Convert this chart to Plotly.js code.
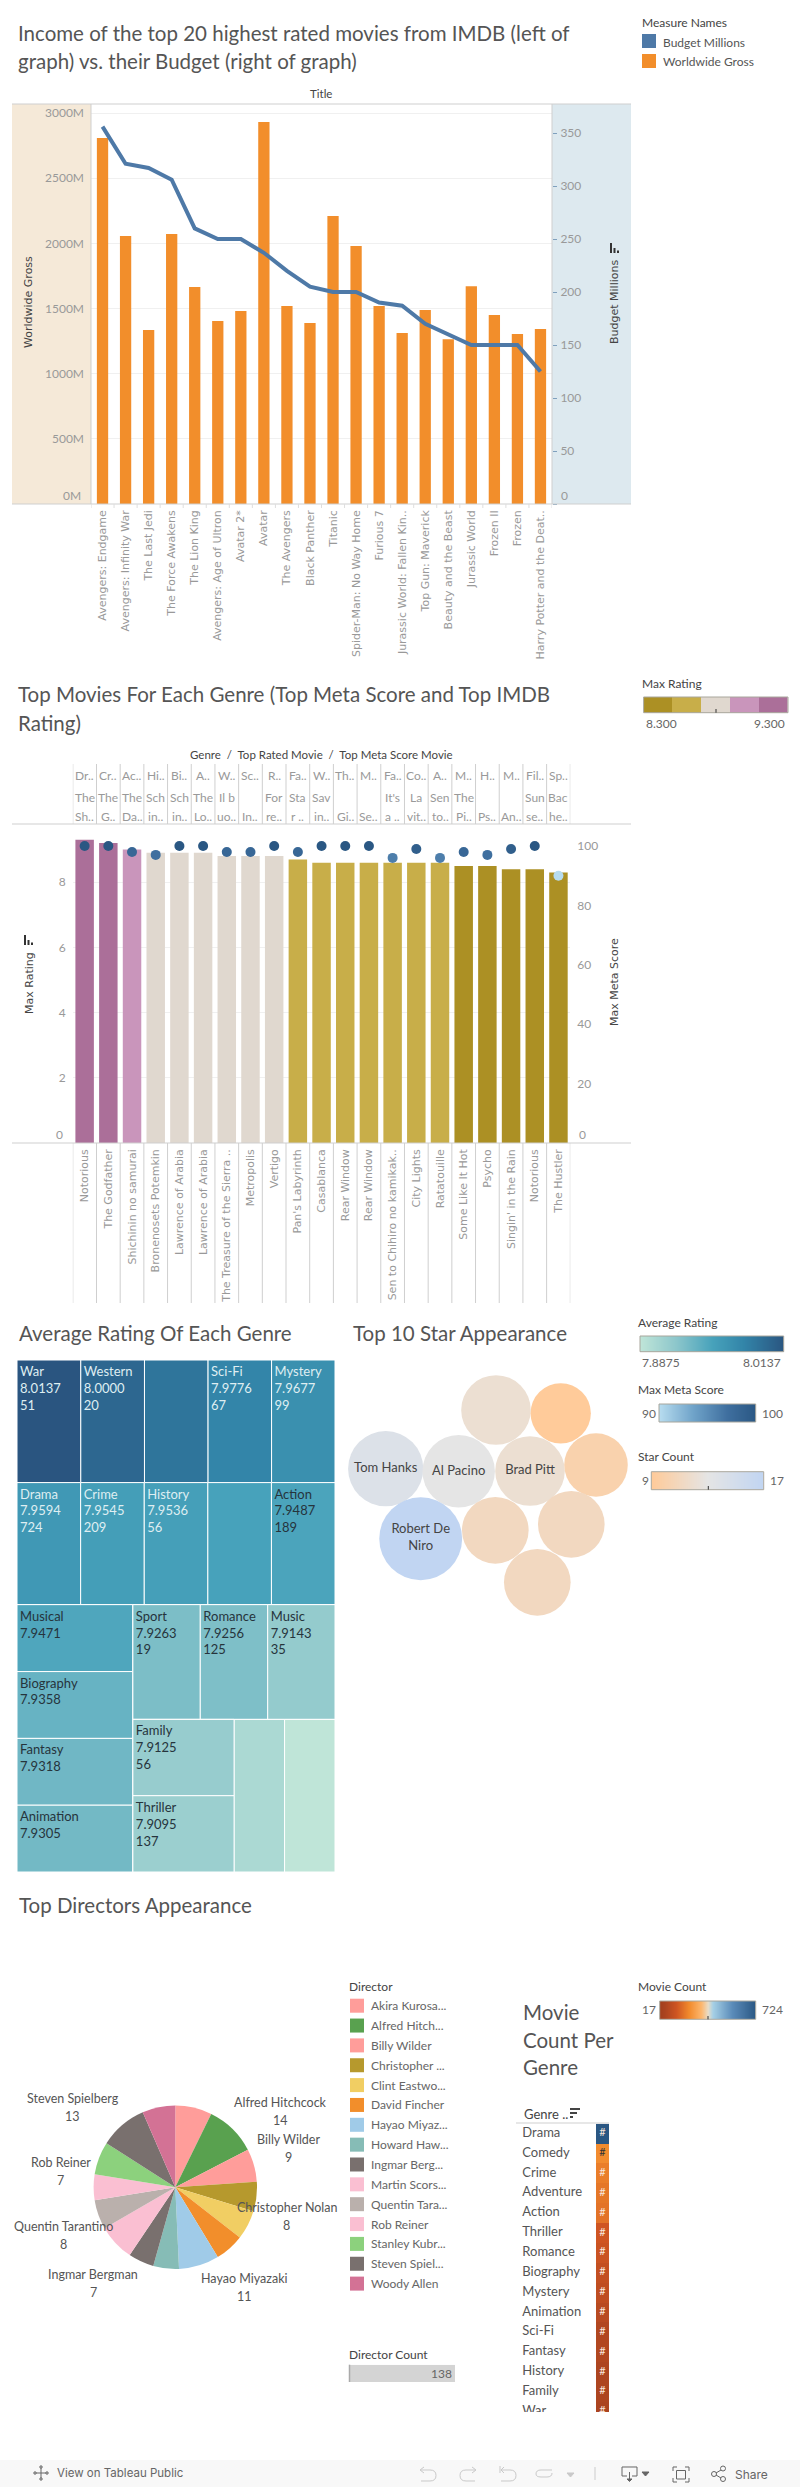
<!DOCTYPE html>
<html><head><meta charset="utf-8">
<script src="https://cdn.plot.ly/plotly-3.0.1.min.js"></script>
<style>html,body{margin:0;padding:0;background:#fff}#c{width:800px;height:2487px}</style>
</head><body><div id="c"></div>
<script>
// ---------- data ----------
const movieTitles = ["Avengers: Endgame","Avengers: Infinity War","The Last Jedi","The Force Awakens","The Lion King","Avengers: Age of Ultron","Avatar 2*","Avatar","The Avengers","Black Panther","Titanic","Spider-Man: No Way Home","Furious 7","Jurassic World: Fallen Kin..","Top Gun: Maverick","Beauty and the Beast","Jurassic World","Frozen II","Frozen","Harry Potter and the Deat.."];
const worldwideGross = [2808,2056,1335,2071,1665,1404,1481,2931,1519,1389,2210,1979,1519,1312,1488,1264,1671,1450,1304,1342];
const budgetMillions = [356,321,317,306,260,250,250,237,220,205,200,200,190,187,170,160,150,150,150,125];
const grossTicks = [0,500,1000,1500,2000,2500,3000];
const budgetTicks = [0,50,100,150,200,250,300,350];

const topMetaMovies = ["Notorious","The Godfather","Shichinin no samurai","Bronenosets Potemkin","Lawrence of Arabia","Lawrence of Arabia","The Treasure of the Sierra ..","Metropolis","Vertigo","Pan's Labyrinth","Casablanca","Rear Window","Rear Window","Sen to Chihiro no kamikak..","City Lights","Ratatouille","Some Like It Hot","Psycho","Singin' in the Rain","Notorious","The Hustler"];
const maxRating = [9.3,9.2,9.0,8.9,8.9,8.9,8.8,8.8,8.8,8.7,8.6,8.6,8.6,8.6,8.6,8.6,8.5,8.5,8.4,8.4,8.3];
const maxMetaScore = [100,100,98,97,100,100,98,98,100,98,100,100,100,96,99,96,98,97,99,100,90];
const genreHeader = ["Dr..","Cr..","Ac..","Hi..","Bi..","A..","W..","Sc..","R..","Fa..","W..","Th..","M..","Fa..","Co..","A..","M..","H..","M..","Fil..","Sp.."];
const topRatedA = ["The","The","The","Sch","Sch","The","Il b","","For","Sta","Sav","","","It's","La","Sen","The","","","Sun","Bac"];
const topRatedB = ["Sh..","G..","Da..","in..","in..","Lo..","uo..","In..","re..","r ..","in..","Gi..","Se..","a ..","vit..","to..","Pi..","Ps..","An..","se..","he.."];
const ratingTicks = [0,2,4,6,8];
const metaTicks = [0,20,40,60,80,100];

// treemap: nested rows of genre tiles (name, average rating, movie count; null = no label drawn)
const tileNames = ["War","Western","Film-Noir","Sci-Fi","Mystery","Drama","Crime","History","Adventure","Action","Musical","Biography","Fantasy","Animation","Sport","Romance","Music","Family","Thriller","Comedy","Horror"];
const tileRatings = [8.0137,8.0000,7.9900,7.9776,7.9677,7.9594,7.9545,7.9536,7.9510,7.9487,7.9471,7.9358,7.9318,7.9305,7.9263,7.9256,7.9143,7.9125,7.9095,7.9000,7.8875];
const tileCounts = [51,20,null,67,99,724,209,56,null,189,null,null,null,null,19,125,35,56,137,null,null];
const tileLabelled = [1,1,0,1,1,1,1,1,0,1,1,1,1,1,1,1,1,1,1,0,0];
const tileLightText = [1,1,0,1,1,1,1,1,0,0,0,0,0,0,0,0,0,0,0,0,0];

const stars = ["Tom Hanks","Al Pacino","Brad Pitt","","","","Robert De<br>Niro","","",""];
const starCounts = [14,13,12,12,9,10,17,11,11,11];
const starPackX = [385.7,458.7,530,496,560.7,596,420.7,495.3,571.3,537.3];
const starPackY = [1468.7,1471.3,1471,1410,1413.3,1465,1538.7,1530.3,1524.3,1582.3];

const directors = ["Akira Kurosawa","Alfred Hitchcock","Billy Wilder","Christopher Nolan","Clint Eastwood","David Fincher","Hayao Miyazaki","Howard Hawks","Ingmar Bergman","Martin Scorsese","Quentin Tarantino","Rob Reiner","Stanley Kubrick","Steven Spielberg","Woody Allen"];
const directorLegend = ["Akira Kurosa...","Alfred Hitch...","Billy Wilder","Christopher ...","Clint Eastwo...","David Fincher","Hayao Miyaz...","Howard Haw...","Ingmar Berg...","Martin Scors...","Quentin Tara...","Rob Reiner","Stanley Kubr...","Steven Spiel...","Woody Allen"];
const directorCounts = [10,14,9,8,8,8,11,7,7,10,8,7,9,13,9];
const directorColors = ["#ff9d9a","#59a14f","#ff9d9a","#b6992d","#f1ce63","#f28e2b","#a0cbe8","#86bcb6","#79706e","#fabfd2","#bab0ac","#fabfd2","#8cd17d","#79706e","#d37295"];
const directorTotal = [138];

const genreRows = ["Drama","Comedy","Crime","Adventure","Action","Thriller","Romance","Biography","Mystery","Animation","Sci-Fi","Fantasy","History","Family","War"];
const genreMovieCounts = [724,233,209,196,189,137,125,109,99,82,67,66,56,56,51];

// ---------- helpers ----------
const W=800,H=2487;
const dx=(a,b)=>[a/W,b/W], dy=(t,b)=>[1-b/H,1-t/H];
const FONT="Lato, 'Open Sans', sans-serif", WIDE="'DejaVu Sans', sans-serif";
const annotations=[], shapes=[], traces=[];
function text(x,y,s,o={}){annotations.push({xref:o.xref||'paper',yref:'paper',x:o.xref?x:x/W,y:1-y/H,text:s,showarrow:false,
  xanchor:o.a||'left',yanchor:'middle',textangle:o.rot||0,align:o.align||(o.a==='center'?'center':'left'),
  font:{family:o.f||FONT,size:o.s||12,color:o.c||'#555'}});}
function rect(x0,y0,x1,y1,fill,o={}){shapes.push({type:'rect',xref:'paper',yref:'paper',x0:x0/W,x1:x1/W,y0:1-y0/H,y1:1-y1/H,
  fillcolor:fill,line:{width:o.w||0,color:o.lc||'rgba(0,0,0,0)'},layer:o.layer||'below'});}
function line(x0,y0,x1,y1,c='#cfcfcf',w=1,layer='above'){shapes.push({type:'line',xref:'paper',yref:'paper',x0:x0/W,x1:x1/W,y0:1-y0/H,y1:1-y1/H,line:{color:c,width:w},layer});}
function path(cmds,c,w=1,fill){const s=cmds.map(p=>{const out=[p[0]];for(let i=1;i<p.length;i+=2)out.push((p[i]/W).toFixed(6)+','+(1-p[i+1]/H).toFixed(6));return out[0]+out.slice(1).join(' ');}).join(' ');
  shapes.push({type:'path',xref:'paper',yref:'paper',path:s,line:{color:c,width:w},fillcolor:fill||'rgba(0,0,0,0)',layer:'above'});}
function sortV(x,y){rect(x,y,x+2,y+10,'#333',{layer:'above'});rect(x+3.5,y+5,x+5.5,y+10,'#333',{layer:'above'});rect(x+7,y+7.5,x+9,y+10,'#333',{layer:'above'});}
const axisBase={fixedrange:true,zeroline:false,showline:false};
const hidden=(domain,range)=>({visible:false,fixedrange:true,domain,range});

const layout={width:W,height:H,margin:{l:0,r:0,t:0,b:0},paper_bgcolor:'#fff',plot_bgcolor:'rgba(0,0,0,0)',showlegend:false,hovermode:false,font:{family:FONT,color:'#555'},annotations,shapes};

// ---------- chart 1 ----------
const TITLE={s:20.5,c:'#555'};
text(16,33,"Income of the top 20 highest rated movies from IMDB (left of",TITLE);
text(16,61,"graph) vs. their Budget (right of graph)",TITLE);
text(321,94,"Title",{a:'center',s:11.5,c:'#444'});
rect(12,104,91,504,'#f5e9d8'); rect(552,104,631,504,'#dde9ef');
line(12,104,631,104); line(12,504,631,504); line(91,104,91,504); line(552,104,552,504);
const idx1=movieTitles.map((_,i)=>i);
layout.xaxis={...axisBase,domain:dx(91,552),range:[-0.5,19.5],anchor:'y',tickmode:'array',tickvals:idx1,ticktext:movieTitles,tickangle:-90,ticks:'',
  tickfont:{family:WIDE,size:11,color:'#999'},showgrid:false,automargin:false,ticklabelstandoff:3};
layout.yaxis={...axisBase,domain:dy(104,504),range:[0,3000*400/391],anchor:'x',tickmode:'array',tickvals:grossTicks,ticktext:grossTicks.map(v=>v?v+'M':''),
  tickfont:{family:FONT,size:12,color:'#999'},gridcolor:'#f0f0f0',ticks:'',ticklabelstandoff:6,automargin:false};
layout.yaxis2={...axisBase,overlaying:'y',side:'right',anchor:'x',range:[0,50*400/53],tickmode:'array',tickvals:budgetTicks,ticktext:budgetTicks.map(v=>v?String(v):''),
  tickfont:{family:FONT,size:12,color:'#999'},showgrid:false,ticks:'outside',ticklen:4,tickcolor:'#7fa0bd',ticklabelstandoff:1,automargin:false};
traces.push({type:'bar',x:idx1,y:worldwideGross,xaxis:'x',yaxis:'y',marker:{color:'#f28e2b'},width:0.49,hoverinfo:'skip'});
traces.push({type:'scatter',mode:'lines',x:idx1,y:budgetMillions,xaxis:'x',yaxis:'y2',line:{color:'#4e79a7',width:4},hoverinfo:'skip'});
idx1.concat([20]).forEach(i=>shapes.push({type:'line',xref:'x',yref:'paper',x0:i-0.5,x1:i-0.5,y0:1-504/H,y1:1-508/H,line:{color:'#dedede',width:1}}));
text(83,496,"0M",{a:'right',c:'#999'}); text(559,496,"0",{c:'#999'});
text(29,302,"Worldwide Gross",{a:'center',rot:-90,s:11,f:WIDE,c:'#444'});
text(615,302,"Budget Millions",{a:'center',rot:-90,s:11,f:WIDE,c:'#444'});
sortV(610,243);
text(640,22,"Measure Names",{s:12,c:'#444'});
rect(642,34,656,48,'#4e79a7'); rect(642,54,656,68,'#f28e2b');
text(661,42,"Budget Millions",{s:12,c:'#555'}); text(661,62,"Worldwide Gross",{s:12,c:'#555'});

// ---------- chart 2 ----------
text(16,694,"Top Movies For Each Genre (Top Meta Score and Top IMDB",TITLE);
text(16,723,"Rating)",TITLE);
text(640,683,"Max Rating",{c:'#444'});
text(321,755,"Genre  /  Top Rated Movie  /  Top Meta Score Movie",{a:'center',s:11.5,c:'#444'});
const C1=['#ac9024','#c8ae49','#e0d8cf','#c995bb','#ab6f99'];
const stepScale=[[0,C1[0]],[.21,C1[0]],[.21,C1[1]],[.41,C1[1]],[.41,C1[2]],[.61,C1[2]],[.61,C1[3]],[.81,C1[3]],[.81,C1[4]],[1,C1[4]]];
const metaScale=[[0,'#b7dcef'],[.35,'#6fa3c9'],[.7,'#3f6f9f'],[1,'#2a5783']];
const idx2=topMetaMovies.map((_,i)=>i);
layout.xaxis2={...axisBase,domain:dx(72.8,570.3),range:[-0.5,20.5],anchor:'y3',tickmode:'array',tickvals:idx2,ticktext:topMetaMovies,tickangle:-90,ticks:'',
  tickfont:{family:WIDE,size:11,color:'#999'},showgrid:false,automargin:false,ticklabelstandoff:3};
layout.yaxis3={...axisBase,domain:dy(824,1143),range:[0,319/32.6],anchor:'x2',tickmode:'array',tickvals:ratingTicks,ticktext:ratingTicks.map(v=>v?String(v):''),
  tickfont:{family:FONT,size:12,color:'#999'},gridcolor:'#f0f0f0',ticks:'',ticklabelstandoff:6,automargin:false};
layout.yaxis4={...axisBase,overlaying:'y3',side:'right',anchor:'x2',range:[0,319/2.97],tickmode:'array',tickvals:metaTicks,ticktext:metaTicks.map(v=>v?String(v):''),
  tickfont:{family:FONT,size:12,color:'#999'},showgrid:false,ticks:'',ticklabelstandoff:6,automargin:false};
traces.push({type:'bar',x:idx2,y:maxRating,xaxis:'x2',yaxis:'y3',width:0.78,marker:{color:maxRating,colorscale:stepScale,cmin:8.3,cmax:9.3},hoverinfo:'skip'});
traces.push({type:'scatter',mode:'markers',x:idx2,y:maxMetaScore,xaxis:'x2',yaxis:'y4',marker:{size:10,color:maxMetaScore,colorscale:metaScale,cmin:90,cmax:100},hoverinfo:'skip'});
line(12,824,631,824); line(12,1143,631,1143);
idx2.concat([21]).forEach(i=>{
  shapes.push({type:'line',xref:'x2',yref:'paper',x0:i-0.5,x1:i-0.5,y0:1-764/H,y1:1-824/H,line:{color:'#cfcfcf',width:1}});
  shapes.push({type:'line',xref:'x2',yref:'paper',x0:i-0.5,x1:i-0.5,y0:1-1143/H,y1:1-1303/H,line:{color:'#cfcfcf',width:1}});
});
idx2.forEach(i=>{
  const o={xref:'x2',a:'center',s:12,c:'#999'};
  text(i,775,genreHeader[i],o);
  if(topRatedA[i]) text(i,798,topRatedA[i],o);
  text(i,816,topRatedB[i],o);
});
text(65,1135,"0",{a:'right',c:'#999'}); text(577,1135,"0",{c:'#999'});
text(29,983,"Max Rating",{a:'center',rot:-90,s:11,f:WIDE,c:'#444'});
text(615,982,"Max Meta Score",{a:'center',rot:-90,s:11,f:WIDE,c:'#444'});
sortV(24,935);

// ---------- treemap ----------
text(16.7,1333,"Average Rating Of Each Genre",TITLE);
const treeShape=[[0,1,2,3,4],[5,6,7,8,9],[[10,11,12,13],[[14,15,16],[[17,18],19,20]]]];
const ids=[],parents=[],vals=[],cols=[],txts=[],txtCols=[];
const ratingScale=[[0,'#bfe5d8'],[.25,'#8cc6cb'],[.5,'#47a2bb'],[.72,'#3284a8'],[1,'#2a5580']];
let nodeN=0;
function addNode(n,par){
  if(typeof n==='number'){
    ids.push(tileNames[n]);parents.push(par);vals.push(tileRatings[n]);cols.push(tileRatings[n]);
    txts.push(tileLabelled[n]?[tileNames[n],tileRatings[n].toFixed(4)].concat(tileCounts[n]===null?[]:[tileCounts[n]]).join('<br>'):'');
    txtCols.push(tileLightText[n]?'#dfeef2':'#26343c');
    return tileRatings[n];
  }
  const id='group'+(nodeN++),pos=ids.length;
  ids.push(id);parents.push(par);vals.push(0);cols.push(7.95);txts.push('');txtCols.push('#333');
  let sum=0;n.forEach(c=>{sum+=addNode(c,id);});vals[pos]=sum;return sum;
}
addNode(treeShape,'');
traces.push({type:'treemap',ids,labels:ids,parents,values:vals,branchvalues:'total',sort:false,text:txts,textinfo:'text',textposition:'top left',
  textfont:{family:FONT,size:13,color:txtCols},insidetextfont:{family:FONT,size:13,color:txtCols},
  marker:{colors:cols,colorscale:ratingScale,cmin:7.8875,cmax:8.0137,showscale:false,line:{color:'#fff',width:1},pad:{t:0,l:0,r:0,b:0},depthfade:false},
  tiling:{packing:'dice-slice',pad:0},pathbar:{visible:false},domain:{x:dx(17,335),y:dy(1360,1872)},hoverinfo:'skip',root:{color:'#fff'}});

// ---------- bubbles ----------
text(351,1333,"Top 10 Star Appearance",TITLE);
layout.xaxis3=hidden(dx(340,640),[340,640]); layout.xaxis3.anchor='y5';
layout.yaxis5=hidden(dy(1340,1620),[1620,1340]); layout.yaxis5.anchor='x3';
const starScale=[[0,'#ffcb9a'],[.5,'#e5e5e5'],[1,'#c1d5f2']];
traces.push({type:'scatter',mode:'markers+text',x:starPackX,y:starPackY,xaxis:'x3',yaxis:'y5',text:stars,textposition:'middle center',
  textfont:{family:FONT,size:13,color:'#444'},cliponaxis:false,
  marker:{size:starCounts,sizemode:'area',sizeref:0.00495,color:starCounts,colorscale:starScale,cmin:9,cmax:17,line:{width:0},opacity:1},hoverinfo:'skip'});

// ---------- legend ramps ----------
let rampN=6; // next x-axis number is 4+, next y-axis from 6
function ramp(x0,y0,x1,y1,zs,scale,zmin,zmax,smooth){
  const xn='x'+(traces.rampX=(traces.rampX||3)+1), yn='y'+(traces.rampY=(traces.rampY||5)+1);
  layout['xaxis'+xn.slice(1)]={...hidden(dx(x0,x1),smooth?[zs[0],zs[zs.length-1]]:[-0.5,zs.length-0.5]),anchor:yn};
  layout['yaxis'+yn.slice(1)]={...hidden(dy(y0,y1),smooth?[0,1]:[-0.5,0.5]),anchor:xn};
  const tr={type:'heatmap',xaxis:xn,yaxis:yn,colorscale:scale,zmin,zmax,showscale:false,hoverinfo:'skip'};
  if(smooth){tr.x=zs;tr.y=[0,1];tr.z=[zs,zs];tr.zsmooth='best';}else{tr.z=[zs];}
  traces.push(tr);
  rect(x0,y0,x1,y1,'rgba(0,0,0,0)',{w:1,lc:'#a8a69c',layer:'above'});
}
ramp(643.6,697,788,712.7,[8.4,8.6,8.8,9.0,9.2],stepScale,8.3,9.3,false);
line(716,709,716,712.7,'#333');
text(643.5,723,"8.300",{c:'#666'}); text(787,723,"9.300",{a:'right',c:'#666'});
text(636,1322,"Average Rating",{c:'#444'});
ramp(640,1336,783.7,1351.7,[7.8875,8.0137],ratingScale,7.8875,8.0137,true);
text(640,1362,"7.8875",{c:'#666'}); text(783,1362,"8.0137",{a:'right',c:'#666'});
text(636,1390,"Max Meta Score",{c:'#444'});
ramp(659,1404,755.7,1422,[90,100],metaScale,90,100,true);
text(640,1413,"90",{c:'#666'}); text(760,1413,"100",{c:'#666'});
text(636,1457,"Star Count",{c:'#444'});
ramp(651.3,1471.7,763.7,1489.7,[9,17],starScale,9,17,true);
line(708.3,1486,708.3,1489.7,'#333');
text(640,1480,"9",{c:'#666'}); text(768,1480,"17",{c:'#666'});

// ---------- pie ----------
text(16.7,1905,"Top Directors Appearance",TITLE);
traces.push({type:'pie',labels:directors,values:directorCounts,sort:false,direction:'clockwise',rotation:0,textinfo:'none',
  marker:{colors:directorColors,line:{width:0}},domain:{x:dx(93.6,257),y:dy(2105.6,2269)},hoverinfo:'skip'});
const pieLabelIdx=[13,1,2,3,11,10,8,6];
const pieLabelX=[72.7,280,288.7,286.7,60.7,63.7,93,244.3];
const pieLabelY=[2098,2102,2139,2207,2162,2226,2274,2278];
pieLabelIdx.forEach((d,i)=>{text(pieLabelX[i],pieLabelY[i],directors[d],{a:'center',s:12.5,c:'#555'});text(pieLabelX[i],pieLabelY[i]+18,String(directorCounts[d]),{a:'center',s:12.5,c:'#555'});});
text(347.3,1986.7,"Director",{c:'#444'});
directorLegend.forEach((n,i)=>{const y=2005.7+i*19.85;rect(350,y-7,364,y+7,directorColors[i]);text(369.3,y,n,{c:'#666'});});
text(347.3,2354.7,"Director Count",{c:'#444'});
layout.xaxis9={...hidden(dx(349,455),[0,directorTotal[0]]),anchor:'y11'};
layout.yaxis11={...hidden(dy(2364.7,2382),[-0.5,0.5]),anchor:'x9'};
traces.push({type:'bar',orientation:'h',x:directorTotal,y:[0],xaxis:'x9',yaxis:'y11',width:1,marker:{color:'#d4d4d4'},text:directorTotal.map(String),textposition:'inside',insidetextanchor:'end',
  textfont:{family:FONT,size:12,color:'#666'},hoverinfo:'skip',constraintext:'none'});
line(349.5,2364.7,349.5,2382,'#aaa',1.5);

// ---------- genre table ----------
text(521,2011.7,"Movie",TITLE); text(521,2039.7,"Count Per",TITLE); text(521,2067,"Genre",TITLE);
text(636.3,1986.7,"Movie Count",{c:'#444'});
const countScale=[[0,'#a33f1c'],[.05,'#ab4420'],[.17,'#cf5522'],[.3,'#f28a2c'],[.43,'#fdb76e'],[.5,'#e9ddc8'],[.55,'#a6d0e6'],[.75,'#5b8cba'],[1,'#2a5783']];
ramp(659.7,2001,755.7,2019.3,[17,724],countScale,17,724,true);
line(708,2016,708,2019.3,'#333');
text(640,2009.6,"17",{c:'#666'}); text(760,2009.6,"724",{c:'#666'});
text(522.3,2114,"Genre ..",{s:13,c:'#444'});
rect(570,2108,580,2110,'#444',{layer:'above'}); rect(570,2112,577,2114,'#444',{layer:'above'}); rect(570,2116,573,2118,'#444',{layer:'above'});
line(516,2123,609,2123);
layout.xaxis10={...hidden(dx(516,609),[0,93]),anchor:'y12'};
layout.yaxis12={...hidden(dy(2123.7,2412),[14.02,-0.5]),anchor:'x10'};
const gi=genreRows.map((_,i)=>i);
traces.push({type:'heatmap',x0:86.5,dx:13,y:gi,z:genreMovieCounts.map(v=>[v]),xaxis:'x10',yaxis:'y12',colorscale:countScale,zmin:17,zmax:724,showscale:false,hoverinfo:'skip'});
traces.push({type:'scatter',mode:'text',x:gi.map(()=>6.3),y:gi,text:genreRows,textposition:'middle right',xaxis:'x10',yaxis:'y12',cliponaxis:true,textfont:{family:FONT,size:13,color:'#555'},hoverinfo:'skip'});
traces.push({type:'scatter',mode:'text',x:gi.map(()=>86.5),y:gi,text:gi.map(()=>'#'),textposition:'middle center',xaxis:'x10',yaxis:'y12',cliponaxis:true,textfont:{family:FONT,size:11,color:gi.map(i=>i===1?'#333':'#f7e6dc')},hoverinfo:'skip'});

// ---------- toolbar ----------
rect(0,2460,800,2487,'#f8f8f8');
text(55,2473,"View on Tableau Public",{f:"Inter, sans-serif",s:11.5,c:'#666'});
[[41,2473,5],[35,2473,2],[47,2473,2],[41,2467,2],[41,2479,2]].forEach(([x,y,r])=>{line(x-r,y,x+r,y,'#666',1);line(x,y-r,x,y+r,'#666',1);});
const IC='#c9c9c9';
path([['M',436,2481],['L',426,2481],['Q',436,2481,436,2475],['Q',436,2470,430,2470],['L',421,2470]],'rgba(0,0,0,0)',0);
path([['M',421,2470],['L',430,2470],['Q',436,2470,436,2475.5],['Q',436,2481,430,2481],['L',421,2481]],IC,1);
path([['M',424,2467],['L',420,2470],['L',424,2473]],IC,1);
path([['M',475,2470],['L',466,2470],['Q',460,2470,460,2475.5],['Q',460,2481,466,2481],['L',475,2481]],IC,1);
path([['M',472,2467],['L',476,2470],['L',472,2473]],IC,1);
path([['M',501,2470],['L',510,2470],['Q',516,2470,516,2475.5],['Q',516,2481,510,2481],['L',501,2481]],IC,1);
path([['M',504,2467],['L',501,2470],['L',504,2473],['M',500,2466],['L',500,2473]],IC,1);
path([['M',552,2470],['L',541,2470],['Q',536,2470,536,2474],['Q',536,2477,541,2477],['L',547,2477],['Q',552,2477,552,2473]],IC,1);
path([['M',567,2473],['L',574,2473],['L',570.5,2477],['Z']],IC,1,IC);
line(595,2467,595,2480,'#cccccc',1);
path([['M',627,2476],['L',622,2476],['L',622,2467],['L',637,2467],['L',637,2476],['L',632,2476],['M',629.5,2472],['L',629.5,2480]],'#666',1);
path([['M',627,2479],['L',632,2479],['L',629.5,2481.5],['Z']],'#666',1,'#666');
path([['M',642,2472],['L',649,2472],['L',645.5,2476],['Z']],'#666',1,'#666');
path([['M',677,2467],['L',673,2467],['L',673,2471],['M',685,2467],['L',689,2467],['L',689,2471],['M',673,2478],['L',673,2482],['L',677,2482],['M',689,2478],['L',689,2482],['L',685,2482]],'#666',1);
rect(676.5,2470.5,685.5,2479,'rgba(0,0,0,0)',{w:1,lc:'#666',layer:'above'});
[[714,2474],[723,2468.5],[723,2479]].forEach(([x,y])=>shapes.push({type:'circle',xref:'paper',yref:'paper',x0:(x-2.5)/W,x1:(x+2.5)/W,y0:1-(y+2.5)/H,y1:1-(y-2.5)/H,line:{color:'#666',width:1},fillcolor:'rgba(0,0,0,0)'}));
line(716,2473,721,2470,'#666',1); line(716,2475,721,2478,'#666',1);
text(733,2474,"Share",{f:"Inter, sans-serif",s:12,c:'#666'});

Plotly.newPlot('c',traces,layout,{displayModeBar:false,staticPlot:true,responsive:false});
</script></body></html>
